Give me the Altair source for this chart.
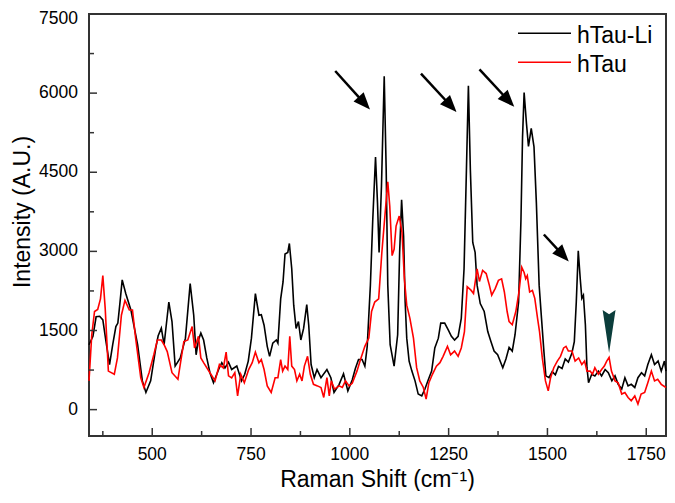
import math
import altair as alt
import pandas as pd

# ---------------- data ----------------
li_x = [340, 350, 358, 367, 375, 383, 392, 400, 408, 413,
        418, 424, 433, 446, 463, 475, 484, 496, 509, 515,
        523, 530, 542, 550, 558, 571, 584, 596, 605, 611,
        617, 623, 630, 638, 646, 655, 668, 676, 684, 693,
        701, 714, 726, 734, 743, 751, 761, 770, 776, 783,
        791, 797, 805, 814, 818, 825, 831, 836, 843, 847,
        853, 858, 864, 870, 876, 883, 891, 896, 902, 910,
        917, 927, 942, 952, 960, 973, 984, 995, 1006, 1014,
        1022, 1031, 1038, 1044, 1052, 1058, 1065, 1070, 1074, 1080,
        1087, 1092, 1096, 1102, 1112, 1121, 1126, 1131, 1136, 1140,
        1144, 1150, 1157, 1165, 1173, 1182, 1190, 1199, 1207, 1215,
        1224, 1230, 1240, 1249, 1257, 1265, 1274, 1282, 1289, 1295,
        1300, 1305, 1311, 1317, 1322, 1330, 1340, 1349, 1357, 1365,
        1374, 1387, 1395, 1403, 1411, 1418, 1427, 1433, 1437, 1441,
        1447, 1452, 1459, 1466, 1472, 1479, 1485, 1491, 1496, 1504,
        1512, 1520, 1528, 1537, 1545, 1553, 1562, 1568, 1573, 1578,
        1583, 1587, 1591, 1596, 1600, 1604, 1612, 1620, 1629, 1637,
        1646, 1654, 1663, 1671, 1679, 1688, 1696, 1704, 1712, 1721,
        1729, 1738, 1746, 1754, 1763, 1771, 1780, 1788, 1796, 1800]
li_y = [1230, 1390, 1760, 1770, 1700, 1290, 855, 1230, 1575, 1640,
        2000, 2460, 2200, 1890, 1230, 545, 325, 545, 1170, 1400,
        1545, 1230, 2040, 1670, 825, 980, 1355, 2390, 1790, 1040,
        1320, 1450, 1320, 980, 700, 510, 760, 890, 790, 900,
        760, 825, 545, 670, 920, 1355, 2200, 1790, 1800, 1600,
        1200, 1010, 1260, 1320, 1260, 2100, 2420, 2950, 2980, 3150,
        2670, 1980, 1540, 1670, 1320, 1540, 1990, 1600, 855, 605,
        760, 605, 760, 605, 325, 480, 680, 355, 560, 780,
        950, 950, 825, 1200, 2360, 3600, 4790, 3920, 2980, 4230,
        6320, 4540, 2360, 1230, 825, 1420, 2980, 3980, 3290, 2040,
        1355, 920, 730, 545, 295, 260, 390, 575, 730, 1170,
        1355, 1640, 1640, 1510, 1390, 1320, 1390, 1730, 2670, 4540,
        6140, 4540, 3170, 2980, 2360, 2010, 1860, 1480, 1290, 1110,
        1040, 795, 960, 1180, 1110, 1420, 2040, 3600, 5170, 6010,
        5420, 4990, 5330, 4980, 3920, 2360, 1730, 1110, 640, 605,
        720, 660, 820, 780, 960, 900, 1075, 1290, 2040, 3010,
        2480, 2110, 2170, 1610, 795, 510, 670, 640, 730, 640,
        760, 700, 545, 640, 480, 390, 605, 450, 480, 420,
        605, 700, 640, 855, 1040, 855, 920, 730, 920, 730]

tau_x = [340, 347, 354, 362, 369, 375, 381, 389, 404, 412,
         422, 431, 442, 450, 458, 471, 479, 492, 504, 513,
         523, 530, 538, 550, 565, 580, 590, 601, 607, 617,
         623, 630, 646, 659, 670, 680, 687, 693, 701, 709,
         716, 724, 733, 744, 753, 761, 770, 776, 783, 791,
         801, 811, 818, 825, 830, 836, 843, 848, 853, 860,
         866, 873, 879, 885, 893, 900, 908, 918, 927, 934,
         942, 948, 953, 961, 973, 981, 989, 998, 1006, 1018,
         1027, 1038, 1048, 1055, 1063, 1073, 1081, 1090, 1096, 1101,
         1107, 1112, 1117, 1125, 1132, 1138, 1144, 1152, 1161, 1169,
         1177, 1186, 1193, 1200, 1209, 1219, 1228, 1236, 1247, 1255,
         1265, 1274, 1282, 1290, 1297, 1307, 1313, 1322, 1328, 1336,
         1345, 1353, 1359, 1368, 1376, 1384, 1391, 1398, 1403, 1411,
         1420, 1428, 1435, 1441, 1445, 1449, 1455, 1462, 1468, 1475,
         1480, 1487, 1495, 1502, 1508, 1516, 1525, 1533, 1541, 1547,
         1553, 1562, 1570, 1579, 1587, 1594, 1600, 1608, 1614, 1620,
         1629, 1637, 1644, 1650, 1656, 1662, 1671, 1679, 1688, 1696,
         1704, 1712, 1721, 1729, 1737, 1746, 1754, 1763, 1771, 1779,
         1788, 1800]
tau_y = [545, 1420, 1860, 1900, 2100, 2540, 1920, 730, 670, 980,
         1790, 2070, 1890, 1890, 1355, 605, 420, 700, 1040, 1320,
         1320, 1230, 1100, 700, 575, 1290, 1320, 1575, 1170, 1390,
         980, 890, 700, 545, 855, 790, 1090, 640, 600, 700,
         260, 670, 510, 760, 890, 1090, 890, 950, 760, 450,
         325, 605, 605, 950, 730, 825, 760, 1390, 825, 760,
         545, 670, 545, 825, 1010, 670, 480, 450, 420, 230,
         605, 260, 545, 390, 450, 420, 545, 450, 500, 730,
         950, 1200, 1355, 1860, 2040, 2100, 2980, 3790, 4320, 3860,
         2920, 3040, 3480, 3670, 3360, 2480, 1980, 1730, 1355, 795,
         545, 420, 200, 510, 670, 825, 890, 1010, 1200, 1040,
         1110, 1010, 1170, 1480, 2330, 2260, 2200, 2670, 2430, 2640,
         2580, 2360, 2170, 2300, 2450, 2480, 2230, 1860, 1670, 1610,
         1860, 2230, 2700, 2600, 2480, 2540, 2230, 2260, 2110, 1730,
         1480, 980, 545, 355, 605, 795, 920, 1010, 1170, 1200,
         1110, 1110, 920, 980, 855, 920, 730, 730, 670, 795,
         670, 760, 825, 920, 990, 730, 545, 510, 295, 325,
         230, 170, 260, 105, 295, 325, 510, 730, 545, 575,
         480, 420]

series_names = ["hTau-Li", "hTau"]
series_colors = ["#000000", "#ff0000"]

x_major = [500, 750, 1000, 1250, 1500, 1750]
x_minor = [375, 625, 875, 1125, 1375, 1625]
y_major = [0, 1500, 3000, 4500, 6000, 7500]
y_minor = [750, 2250, 3750, 5250, 6750]

x_title = "Raman Shift (cm\u207b\u00b9)"
y_title = "Intensity (A.U.)"

arrow_tail_x = [963, 1180, 1328, 1491]
arrow_tail_y = [6420, 6370, 6450, 3320]
arrow_tip_x = [1051, 1270, 1416, 1554]
arrow_tip_y = [5690, 5640, 5740, 2810]

marker_x = [1656]
marker_y = [1074]

# ---------------- layout ----------------
X_DOMAIN = [340, 1800]
Y_DOMAIN = [-500, 7500]
W, H = 577, 422
FONT = "Liberation Sans"
FRAME = "#333333"

xs = alt.Scale(domain=X_DOMAIN, nice=False, zero=False)
ys = alt.Scale(domain=Y_DOMAIN, nice=False, zero=False)

sx = W / (X_DOMAIN[1] - X_DOMAIN[0])
sy = H / (Y_DOMAIN[1] - Y_DOMAIN[0])

li_df = pd.DataFrame({"shift": li_x, "intensity": li_y})
tau_df = pd.DataFrame({"shift": tau_x, "intensity": tau_y})

line_li = alt.Chart(li_df).mark_line(color=series_colors[0], strokeWidth=1.6).encode(
    x=alt.X("shift:Q", scale=xs, axis=None),
    y=alt.Y("intensity:Q", scale=ys, axis=None),
    order="shift:Q",
)
line_tau = alt.Chart(tau_df).mark_line(color=series_colors[1], strokeWidth=1.6).encode(
    x=alt.X("shift:Q", scale=xs, axis=None),
    y=alt.Y("intensity:Q", scale=ys, axis=None),
    order="shift:Q",
)

# inward tick marks
def xticks(vals, length):
    return alt.Chart(pd.DataFrame({"v": vals})).mark_rule(color=FRAME, strokeWidth=1.5).encode(
        x=alt.X("v:Q", scale=xs, axis=None), y=alt.value(H), y2=alt.value(H - length))

def yticks(vals, length):
    return alt.Chart(pd.DataFrame({"v": vals})).mark_rule(color=FRAME, strokeWidth=1.5).encode(
        y=alt.Y("v:Q", scale=ys, axis=None), x=alt.value(0), x2=alt.value(length))

# tick labels (drawn as text through the scales)
xlab_df = pd.DataFrame({"v": x_major, "lab": [str(v) for v in x_major]})
xlabels = alt.Chart(xlab_df).mark_text(
    font=FONT, fontSize=17.5, color="black", align="center", baseline="top").encode(
    x=alt.X("v:Q", scale=xs, axis=None), y=alt.value(H + 10), text="lab:N")

def ylabel_layer(vals, dy):
    df = pd.DataFrame({"v": vals, "lab": [str(v) for v in vals]})
    return alt.Chart(df).mark_text(
        font=FONT, fontSize=17.5, color="black", align="right", baseline="middle", dy=dy).encode(
        y=alt.Y("v:Q", scale=ys, axis=None), x=alt.value(-11), text="lab:N")

ylabels = ylabel_layer(y_major[:-1], 0)
ylabel_top = ylabel_layer(y_major[-1:], 5)  # nudged down to stay inside the page

xtitle = alt.Chart(pd.DataFrame({"t": [x_title]})).mark_text(
    font=FONT, fontSize=23, color="black", align="center", baseline="alphabetic").encode(
    x=alt.value(W / 2), y=alt.value(H + 50.5), text="t:N")
ytitle = alt.Chart(pd.DataFrame({"t": [y_title]})).mark_text(
    font=FONT, fontSize=23, color="black", align="center", baseline="alphabetic",
    angle=270).encode(
    x=alt.value(-59.5), y=alt.value(198), text="t:N")

# arrows
HEAD_LEN = 17
rows = []
for tx, ty, hx, hy in zip(arrow_tail_x, arrow_tail_y, arrow_tip_x, arrow_tip_y):
    dxp = (hx - tx) * sx
    dyp = (ty - hy) * sy  # downward positive
    L = math.hypot(dxp, dyp)
    ang = math.degrees(math.atan2(dxp, -dyp)) % 360
    ex = hx - (dxp / L * 10) / sx
    ey = hy + (dyp / L * 10) / sy
    rows.append({"tx": tx, "ty": ty, "hx": hx, "hy": hy, "ex": ex, "ey": ey, "ang": ang})
arrow_df = pd.DataFrame(rows)

shafts = alt.Chart(arrow_df).mark_rule(color="black", strokeWidth=2.5).encode(
    x=alt.X("tx:Q", scale=xs, axis=None), y=alt.Y("ty:Q", scale=ys, axis=None),
    x2="ex:Q", y2="ey:Q")
heads = alt.Chart(arrow_df).mark_point(
    shape="M0,0L-0.8,2L0.8,2Z", size=HEAD_LEN ** 2, filled=True, color="black",
    opacity=1, strokeWidth=0).encode(
    x=alt.X("hx:Q", scale=xs, axis=None), y=alt.Y("hy:Q", scale=ys, axis=None),
    angle=alt.Angle("ang:Q", scale=None))

marker = alt.Chart(pd.DataFrame({"mx": marker_x, "my": marker_y})).mark_point(
    shape="M-0.3,-2L0,-1.8L0.3,-2L0,0Z", size=1849, filled=True,
    color="#0b3d3b", opacity=1, strokeWidth=0).encode(
    x=alt.X("mx:Q", scale=xs, axis=None), y=alt.Y("my:Q", scale=ys, axis=None))

# legend drawn manually
legend_layers = []
for i, (name, col) in enumerate(zip(series_names, series_colors)):
    ldf = pd.DataFrame({"label": [name]})
    legend_layers.append(alt.Chart(ldf).mark_rule(color=col, strokeWidth=1.6).encode(
        x=alt.value(429), x2=alt.value(482), y=alt.value(19.3 + 29 * i)))
    legend_layers.append(alt.Chart(ldf).mark_text(
        align="left", baseline="alphabetic", font=FONT, fontSize=23, color="black").encode(
        text="label:N", x=alt.value(488), y=alt.value(29.3 + 28.5 * i)))

chart = alt.layer(
    line_li, line_tau,
    xticks(x_major, 8), xticks(x_minor, 5), yticks(y_major, 8), yticks(y_minor, 5),
    xlabels, ylabels, ylabel_top, xtitle, ytitle,
    shafts, heads, marker, *legend_layers,
).properties(
    width=W, height=H,
    autosize=alt.AutoSizeParams(type="none"),
    padding={"left": 81, "top": 6, "right": 1, "bottom": 55},
).configure_view(stroke=FRAME, strokeWidth=2)

chart.save("out.html", embed_options={"renderer": "svg", "actions": False})
